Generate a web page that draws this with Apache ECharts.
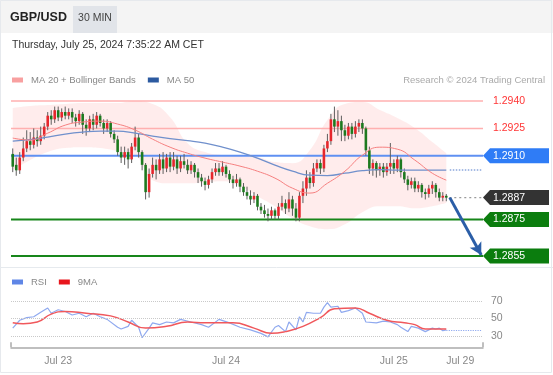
<!DOCTYPE html>
<html><head><meta charset="utf-8">
<script src="https://cdn.jsdelivr.net/npm/echarts@6/dist/echarts.min.js"></script>
<style>html,body{margin:0;padding:0;background:#fff;}#chart{width:553px;height:375px;}</style>
</head><body><div id="chart"></div>
<script>
const FONT = '"Liberation Sans", Arial, sans-serif';

// ---- axis / time
const nCats = 135;
const startMs = Date.UTC(2024, 6, 22, 17, 30);
const categories = Array.from({length: nCats}, (_, i) => new Date(startMs + i * 1800000).toISOString().slice(5, 16));
const tickIdx = [13, 61, 109, 128];
const tickText = ['Jul 23', 'Jul 24', 'Jul 25', 'Jul 29'];

// ---- candles (30 min)
const candleOpen = [1.2911,1.2905,1.2902,1.2909,1.2914,1.2918,1.2916,1.2920,1.2918,1.2921,1.2926,1.2932,1.2930,1.2935,1.2931,1.2934,1.2932,1.2934,1.2931,1.2929,1.2933,1.2927,1.2925,1.2930,1.2927,1.2932,1.2928,1.2925,1.2928,1.2922,1.2919,1.2912,1.2909,1.2912,1.2908,1.2915,1.2920,1.2912,1.2905,1.2890,1.2900,1.2905,1.2902,1.2908,1.2903,1.2909,1.2904,1.2908,1.2903,1.2907,1.2905,1.2902,1.2905,1.2901,1.2898,1.2896,1.2894,1.2897,1.2901,1.2903,1.2901,1.2904,1.2900,1.2897,1.2895,1.2897,1.2893,1.2890,1.2888,1.2886,1.2888,1.2882,1.2880,1.2878,1.2877,1.2880,1.2877,1.2882,1.2884,1.2881,1.2886,1.2881,1.2876,1.2888,1.2892,1.2898,1.2895,1.2903,1.2906,1.2903,1.2914,1.2918,1.2930,1.2926,1.2929,1.2924,1.2921,1.2926,1.2922,1.2926,1.2928,1.2925,1.2913,1.2903,1.2906,1.2902,1.2904,1.2901,1.2904,1.2906,1.2903,1.2908,1.2901,1.2897,1.2894,1.2896,1.2892,1.2894,1.2890,1.2889,1.2892,1.2894,1.2890,1.2887,1.2888];
const candleClose = [1.2904,1.2902,1.2909,1.2914,1.2918,1.2916,1.2920,1.2918,1.2921,1.2926,1.2932,1.2930,1.2935,1.2931,1.2934,1.2932,1.2934,1.2931,1.2929,1.2933,1.2927,1.2925,1.2930,1.2927,1.2932,1.2928,1.2925,1.2928,1.2922,1.2919,1.2912,1.2909,1.2912,1.2908,1.2915,1.2920,1.2912,1.2905,1.2890,1.2900,1.2905,1.2902,1.2908,1.2903,1.2909,1.2904,1.2908,1.2903,1.2907,1.2905,1.2902,1.2905,1.2901,1.2898,1.2896,1.2894,1.2897,1.2901,1.2903,1.2901,1.2904,1.2900,1.2897,1.2895,1.2897,1.2893,1.2890,1.2888,1.2886,1.2888,1.2882,1.2880,1.2878,1.2877,1.2880,1.2877,1.2882,1.2884,1.2881,1.2886,1.2881,1.2876,1.2888,1.2892,1.2898,1.2895,1.2903,1.2906,1.2903,1.2914,1.2918,1.2930,1.2926,1.2929,1.2924,1.2921,1.2926,1.2922,1.2926,1.2928,1.2925,1.2913,1.2903,1.2906,1.2902,1.2904,1.2901,1.2904,1.2906,1.2903,1.2908,1.2901,1.2897,1.2894,1.2896,1.2892,1.2894,1.2890,1.2889,1.2892,1.2894,1.2890,1.2887,1.2888,1.2887];
const candleHigh = [1.2914,1.2909,1.2912,1.2920,1.2924,1.2923,1.2925,1.2924,1.2926,1.2928,1.2934,1.2935,1.2937,1.2937,1.2936,1.2937,1.2936,1.2936,1.2933,1.2935,1.2934,1.2930,1.2932,1.2933,1.2934,1.2933,1.2930,1.2930,1.2929,1.2924,1.2921,1.2915,1.2915,1.2914,1.2917,1.2926,1.2922,1.2913,1.2906,1.2903,1.2909,1.2908,1.2911,1.2912,1.2911,1.2912,1.2912,1.2910,1.2910,1.2911,1.2908,1.2907,1.2906,1.2903,1.2900,1.2898,1.2899,1.2903,1.2906,1.2906,1.2907,1.2905,1.2902,1.2899,1.2900,1.2898,1.2895,1.2893,1.2891,1.2890,1.2889,1.2884,1.2883,1.2881,1.2882,1.2881,1.2884,1.2888,1.2886,1.2890,1.2888,1.2884,1.2890,1.2896,1.2902,1.2901,1.2906,1.2908,1.2908,1.2916,1.2922,1.2933,1.2937,1.2935,1.2932,1.2927,1.2928,1.2928,1.2929,1.2930,1.2930,1.2926,1.2915,1.2908,1.2907,1.2906,1.2906,1.2906,1.2917,1.2908,1.2910,1.2909,1.2903,1.2899,1.2898,1.2898,1.2896,1.2895,1.2892,1.2894,1.2896,1.2895,1.2892,1.2890,1.2889];
const candleLow = [1.2901,1.2899,1.2900,1.2907,1.2912,1.2913,1.2914,1.2915,1.2916,1.2919,1.2924,1.2927,1.2928,1.2929,1.2929,1.2930,1.2930,1.2928,1.2926,1.2927,1.2922,1.2921,1.2923,1.2924,1.2925,1.2926,1.2922,1.2923,1.2920,1.2917,1.2910,1.2906,1.2905,1.2903,1.2906,1.2913,1.2909,1.2902,1.2886,1.2887,1.2898,1.2897,1.2900,1.2900,1.2901,1.2901,1.2902,1.2900,1.2901,1.2903,1.2900,1.2900,1.2898,1.2895,1.2893,1.2891,1.2892,1.2895,1.2899,1.2899,1.2899,1.2898,1.2895,1.2892,1.2893,1.2890,1.2888,1.2886,1.2883,1.2884,1.2880,1.2878,1.2876,1.2874,1.2875,1.2875,1.2875,1.2880,1.2878,1.2879,1.2877,1.2874,1.2874,1.2884,1.2888,1.2892,1.2893,1.2901,1.2900,1.2901,1.2912,1.2916,1.2923,1.2921,1.2918,1.2918,1.2919,1.2919,1.2920,1.2923,1.2922,1.2910,1.2900,1.2899,1.2898,1.2899,1.2898,1.2899,1.2900,1.2900,1.2901,1.2898,1.2895,1.2891,1.2892,1.2890,1.2890,1.2887,1.2886,1.2887,1.2889,1.2887,1.2885,1.2885,1.2885];

// ---- moving averages & Bollinger bands (sampled)
const maIdx = [0,5,10,15,20,25,30,35,40,45,50,55,60,65,70,75,80,85,90,95,100,105,110,115,120,124];
const ma20 = [1.29197,1.29186,1.29224,1.29268,1.29285,1.29290,1.29274,1.29241,1.29191,1.29147,1.29114,1.29087,1.29065,1.29043,1.29015,1.28977,1.28922,1.28895,1.28949,1.29015,1.29103,1.29147,1.29136,1.29076,1.29004,1.28966];
const ma50 = [1.29180,1.29188,1.29202,1.29219,1.29230,1.29235,1.29235,1.29224,1.29208,1.29194,1.29183,1.29169,1.29147,1.29120,1.29087,1.29048,1.29015,1.28993,1.28991,1.29004,1.29018,1.29024,1.29021,1.29021,1.29021,1.29021];
const bbUpper = [1.29362,1.29373,1.29378,1.29384,1.29389,1.29389,1.29389,1.29400,1.29384,1.29312,1.29169,1.29120,1.29103,1.29098,1.29092,1.29065,1.29059,1.29131,1.29296,1.29384,1.29395,1.29351,1.29307,1.29252,1.29175,1.29114];
const bbLower = [1.29021,1.29076,1.29120,1.29142,1.29147,1.29142,1.29125,1.29103,1.28966,1.28949,1.28949,1.28955,1.28960,1.28933,1.28878,1.28823,1.28757,1.28713,1.28697,1.28724,1.28790,1.28823,1.28823,1.28812,1.28823,1.28840];

// ---- key levels
const levelValues = [1.2940, 1.2925, 1.2910, 1.2887, 1.2875, 1.2855];
const levelKinds = ['res', 'res', 'pivot', 'last', 'sup', 'sup'];
const arrowFrom = [125, 1.2887];
const arrowTo = [134, 1.28555];

// ---- RSI
const rsiIdx = [0,2,4,6,8,10,11,13,15,17,19,21,23,25,27,30,31,33,34,36,37,39,40,42,44,46,48,51,54,56,59,62,65,68,71,73,75,76,78,79,81,82,83,84,86,88,89,90,91,93,94,96,98,100,101,104,106,108,110,111,113,114,116,118,120,121,122,123,124];
const rsiVal = [39,48,51,52,57,62,56,60,58,54,56,52,56,52,49,40,38,41,48,40,28,39,45,43,46,45,49,46,43,40,49,45,40,37,33,29,40,42,35,46,37,52,46,57,56,56,63,68,63,64,57,59,62,56,46,45,47,46,43,40,35,41,39,35,39,38,39,36,37];
const ma9Idx = [0,3,7,11,15,21,28,33,38,44,50,55,63,69,74,78,83,88,92,98,102,107,112,115,118,124];
const ma9Val = [45,44,46,55,58,56,53,46,39,41,46,45,45,39,33,35,41,51,61,62,56,48,45,43,38,38];
const rsiLevels = [70, 50, 30];

// ---- styles
const levelStyle = {
  res:   {line: '#ffb0b0', lw: 1.5, text: '#ff3535', tag: null},
  pivot: {line: '#5f90f2', lw: 2, text: '#ffffff', tag: '#2f7cf6'},
  last:  {line: '#9a9a9a', lw: 1.2, dash: [2, 3], text: '#ffffff', tag: '#333333'},
  sup:   {line: '#17861a', lw: 2, text: '#ffffff', tag: '#0b7d0e'}
};

const pair = (idx, vals) => idx.map((x, k) => [x, vals[k]]);
const lastCandle = candleOpen.length - 1;

function renderCandle(params, api) {
  const i = api.value(0);
  const o = api.value(1), c = api.value(2), l = api.value(3), h = api.value(4);
  const po = api.coord([i, o]), pc = api.coord([i, c]), pl = api.coord([i, l]), ph = api.coord([i, h]);
  const bw = api.size([1, 0])[0] * 0.74;
  const top = Math.min(po[1], pc[1]);
  const bh = Math.max(Math.abs(po[1] - pc[1]), 1);
  return {type: 'group', children: [
    {type: 'line', shape: {x1: ph[0], y1: ph[1], x2: pl[0], y2: pl[1]}, style: {stroke: '#5e5e5e', lineWidth: 1}},
    {type: 'rect', shape: {x: po[0] - bw / 2, y: top, width: bw, height: bh}, style: {fill: c >= o ? '#e6262c' : '#1d7a1f'}}
  ]};
}

function renderLevel(params, api) {
  const k = api.value(0), v = api.value(1);
  const st = levelStyle[levelKinds[k]];
  const cs = params.coordSys;
  const y = api.coord([0, v])[1];
  const xr = cs.x + cs.width;
  let xl = cs.x;
  if (levelKinds[k] === 'last') xl = api.coord([lastCandle, v])[0] + 3;
  const ch = [{type: 'line', shape: {x1: xl, y1: y, x2: xr, y2: y}, style: {stroke: st.line, lineWidth: st.lw, lineDash: st.dash || null}}];
  if (st.tag) ch.push({type: 'polygon', shape: {points: [[xr, y], [xr + 7, y - 7.5], [xr + 66, y - 7.5], [xr + 66, y + 7.5], [xr + 7, y + 7.5]]}, style: {fill: st.tag}});
  ch.push({type: 'text', x: xr + 10, y: y, style: {text: v.toFixed(4), fill: st.text, font: '10.5px ' + FONT, align: 'left', verticalAlign: 'middle'}});
  return {type: 'group', children: ch};
}

const chart = echarts.init(document.getElementById('chart'), null, {renderer: 'canvas'});
chart.setOption({
  animation: false,
  textStyle: {fontFamily: FONT},
  graphic: [
    {type: 'rect', shape: {x: 0, y: 0, width: 553, height: 33}, style: {fill: '#f4f4f4'}, z: -10},
    {type: 'rect', shape: {x: 73, y: 6, width: 44, height: 27}, style: {fill: '#e1e4e9'}, z: -9},
    {type: 'text', x: 10, y: 18, style: {text: 'GBP/USD', fill: '#222', font: 'bold 12.5px ' + FONT, verticalAlign: 'middle'}},
    {type: 'text', x: 95, y: 18, style: {text: '30 MIN', fill: '#444', font: '10.5px ' + FONT, align: 'center', verticalAlign: 'middle'}},
    {type: 'text', x: 12, y: 45, style: {text: 'Thursday, July 25, 2024 7:35:22 AM CET', fill: '#333', font: '10.5px ' + FONT, verticalAlign: 'middle'}},
    {type: 'text', x: 545, y: 80, style: {text: 'Research \u00a9 2024 Trading Central', fill: '#aaa', font: '9.5px ' + FONT, align: 'right', verticalAlign: 'middle'}},
    {type: 'line', shape: {x1: 0, y1: 267.5, x2: 553, y2: 267.5}, style: {stroke: '#e6eaee', lineWidth: 1}},
    {type: 'rect', shape: {x: 0.5, y: 0.5, width: 551, height: 372}, style: {fill: null, stroke: '#e6e9ed', lineWidth: 1}, z: -8}
  ],
  legend: [
    {left: 12, top: 75, padding: 0, icon: 'rect', itemWidth: 11, itemHeight: 5, itemGap: 12, selectedMode: false,
     textStyle: {color: '#888', fontSize: 9.5, fontFamily: FONT, padding: [0, 0, 0, 3]},
     data: [{name: 'MA 20 + Bollinger Bands', itemStyle: {color: '#f8a0a0'}}, {name: 'MA 50', itemStyle: {color: '#2c5aa0'}}]},
    {left: 12, top: 277, padding: 0, icon: 'rect', itemWidth: 11, itemHeight: 5, itemGap: 12, selectedMode: false,
     textStyle: {color: '#888', fontSize: 9.5, fontFamily: FONT, padding: [0, 0, 0, 3]},
     data: [{name: 'RSI', itemStyle: {color: '#5f86e6'}}, {name: '9MA', itemStyle: {color: '#e8161d'}}]}
  ],
  grid: [
    {left: 11, width: 472, top: 92, height: 173},
    {left: 11, width: 472, top: 292.25, height: 55.1}
  ],
  xAxis: [
    {type: 'category', gridIndex: 0, data: categories, boundaryGap: true, show: false},
    {type: 'category', gridIndex: 1, data: categories, boundaryGap: true,
     axisLine: {show: true, lineStyle: {color: '#aaa', width: 1.5}},
     axisTick: {show: false},
     axisLabel: {interval: (i) => tickIdx.includes(i), formatter: (v, i) => tickText[tickIdx.indexOf(i)] || '', color: '#888', fontSize: 10.5, fontFamily: FONT, margin: 8}},
    {type: 'value', gridIndex: 1, min: 0, max: 1, interval: 1, position: 'bottom',
     axisLine: {show: false}, axisLabel: {show: false}, splitLine: {show: false},
     axisTick: {show: true, inside: true, length: 5, lineStyle: {color: '#aaa', width: 1.5}}}
  ],
  yAxis: [
    {type: 'value', gridIndex: 0, min: 1.2850, max: 1.2945, show: false, splitLine: {show: false}},
    {type: 'value', gridIndex: 1, min: 17, max: 80, show: false, splitLine: {show: false}}
  ],
  series: [
    {name: 'bbBase', type: 'line', xAxisIndex: 0, yAxisIndex: 0, stack: 'bb', smooth: true, showSymbol: false, silent: true,
     lineStyle: {opacity: 0}, data: pair(maIdx, bbLower), z: 1},
    {name: 'bbBand', type: 'line', xAxisIndex: 0, yAxisIndex: 0, stack: 'bb', smooth: true, showSymbol: false, silent: true,
     lineStyle: {opacity: 0}, areaStyle: {color: 'rgba(255,150,150,0.26)'}, data: pair(maIdx, bbUpper.map((u, k) => u - bbLower[k])), z: 1},
    {name: 'levels', type: 'custom', xAxisIndex: 0, yAxisIndex: 0, renderItem: renderLevel, z: 2, silent: true,
     data: levelValues.map((v, k) => [k, v]), encode: {x: 0, y: 1}},
    {name: 'candles', type: 'custom', xAxisIndex: 0, yAxisIndex: 0, renderItem: renderCandle, z: 4, silent: true,
     data: candleOpen.map((o, i) => [i, o, candleClose[i], candleLow[i], candleHigh[i]]), encode: {x: 0, y: [1, 2, 3, 4]}},
    {name: 'MA 50', type: 'line', xAxisIndex: 0, yAxisIndex: 0, smooth: true, showSymbol: false, silent: true, z: 5,
     lineStyle: {color: '#7090cc', width: 1.3}, itemStyle: {color: '#7090cc'}, data: pair(maIdx, ma50),
     markLine: {silent: true, symbol: ['none', 'none'], label: {show: false}, lineStyle: {color: '#8aa6dc', type: 'dotted', width: 1.5},
       data: [[{coord: [lastCandle + 1, ma50[ma50.length - 1]]}, {coord: [nCats - 1, ma50[ma50.length - 1]]}]]}},
    {name: 'MA 20 + Bollinger Bands', type: 'line', xAxisIndex: 0, yAxisIndex: 0, smooth: true, showSymbol: false, silent: true, z: 5,
     lineStyle: {color: '#f57f7f', width: 1}, itemStyle: {color: '#f57f7f'}, data: pair(maIdx, ma20),
     markLine: {silent: true, symbol: ['none', 'arrow'], symbolSize: [10, 12], label: {show: false}, lineStyle: {color: '#2b5ea7', type: 'solid', width: 3},
       data: [[{coord: arrowFrom}, {coord: arrowTo}]]}},
    {name: 'RSI', type: 'line', xAxisIndex: 1, yAxisIndex: 1, showSymbol: false, silent: true, z: 3,
     lineStyle: {color: '#8fa9ef', width: 1.2}, itemStyle: {color: '#8fa9ef'}, data: pair(rsiIdx, rsiVal),
     markLine: {silent: true, symbol: ['none', 'none'], label: {show: false}, lineStyle: {color: '#8fa9ef', type: 'dotted', width: 1.2},
       data: [[{coord: [lastCandle, rsiVal[rsiVal.length - 1]]}, {coord: [nCats - 1, rsiVal[rsiVal.length - 1]]}]]}},
    {name: '9MA', type: 'line', xAxisIndex: 1, yAxisIndex: 1, smooth: true, showSymbol: false, silent: true, z: 4,
     lineStyle: {color: '#f0585c', width: 1.5}, itemStyle: {color: '#f0585c'}, data: pair(ma9Idx, ma9Val),
     markLine: {silent: true, symbol: ['none', 'none'], lineStyle: {color: '#c9c9c9', type: 'dotted', width: 1},
       label: {show: true, position: 'end', formatter: '{c}', color: '#888', fontSize: 10.5, fontFamily: FONT, distance: 8},
       data: rsiLevels.map(v => ({yAxis: v}))}}
  ]
});
</script></body></html>
